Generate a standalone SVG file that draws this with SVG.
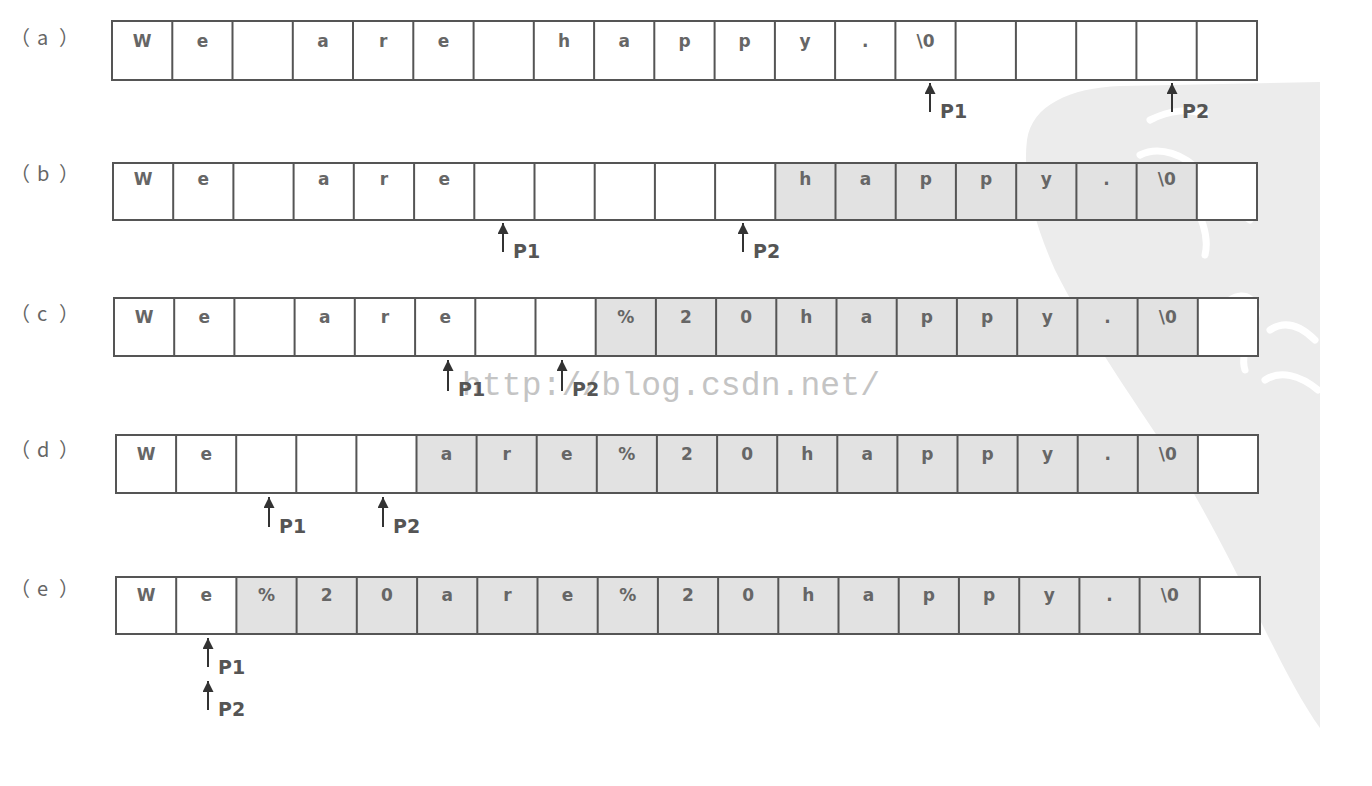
<svg xmlns="http://www.w3.org/2000/svg" width="1372" height="786" viewBox="0 0 1372 786">
<style>
.lbl{font-family:"Noto Sans CJK SC","DejaVu Sans",sans-serif;font-size:20px;fill:#666}
.box{fill:#fff;stroke:#555;stroke-width:2}
.shade{fill:#e2e2e2}
.grid{fill:none;stroke:#555;stroke-width:2}
.ch{font-family:"DejaVu Sans",sans-serif;font-size:17px;font-weight:bold;fill:#666;text-anchor:middle}
.ptr{stroke:#333;stroke-width:2;fill:none}
.pl{font-family:"DejaVu Sans",sans-serif;font-size:19px;font-weight:bold;fill:#555}
.wm{font-family:"Liberation Mono",monospace;font-size:33px;fill:#c4c4c4}
</style>
<defs>
<marker id="ah" markerUnits="userSpaceOnUse" markerWidth="11" markerHeight="11" viewBox="0 0 10 10" refX="10" refY="5" orient="auto">
<path d="M0,0 L10,5 L0,10 z" fill="#333"/>
</marker>
</defs>
<rect width="1372" height="786" fill="#fff"/>
<g id="stamp">
<path d="M1027,140 C1032,105 1070,88 1120,86 L1320,82 L1320,728 C1300,700 1280,660 1260,620 C1230,560 1200,500 1170,455 C1130,395 1085,330 1055,270 C1035,225 1022,180 1027,140 Z" fill="#ececec"/>
<g fill="none" stroke="#fff" stroke-width="7" stroke-linecap="round">
<path d="M1150,120 C1170,110 1190,108 1205,115"/>
<path d="M1140,155 C1160,145 1185,155 1200,172 C1215,190 1235,210 1250,220"/>
<path d="M1190,195 C1200,215 1210,235 1205,255"/>
<path d="M1230,300 C1245,290 1260,300 1255,320 C1250,340 1240,355 1245,370"/>
<path d="M1270,330 C1285,320 1300,325 1315,340"/>
<path d="M1265,380 C1280,370 1300,375 1318,390"/>
</g>
</g>
<g id="row-a">
<text class="lbl" x="10 37 59" y="45">（a）</text>
<rect class="box" x="112" y="21" width="1145" height="59"/>
<path class="grid" d="M172.3 21V80M232.5 21V80M292.8 21V80M353 21V80M413.3 21V80M473.6 21V80M533.8 21V80M594.1 21V80M654.3 21V80M714.6 21V80M774.9 21V80M835.1 21V80M895.4 21V80M955.6 21V80M1015.9 21V80M1076.2 21V80M1136.4 21V80M1196.7 21V80"/>
<text class="ch" x="142.1" y="47">W</text>
<text class="ch" x="202.4" y="47">e</text>
<text class="ch" x="322.9" y="47">a</text>
<text class="ch" x="383.2" y="47">r</text>
<text class="ch" x="443.4" y="47">e</text>
<text class="ch" x="564" y="47">h</text>
<text class="ch" x="624.2" y="47">a</text>
<text class="ch" x="684.5" y="47">p</text>
<text class="ch" x="744.7" y="47">p</text>
<text class="ch" x="805" y="47">y</text>
<text class="ch" x="865.3" y="47">.</text>
<text class="ch" x="925.5" y="47">\0</text>
</g>
<g id="row-b">
<text class="lbl" x="10 37 59" y="181">（b）</text>
<rect class="box" x="113" y="163" width="1144" height="57"/>
<rect class="shade" x="775.3" y="164" width="421.5" height="55"/>
<path class="grid" d="M113 163H1257V220H113ZM173.2 163V220M233.4 163V220M293.6 163V220M353.8 163V220M414.1 163V220M474.3 163V220M534.5 163V220M594.7 163V220M654.9 163V220M715.1 163V220M775.3 163V220M835.5 163V220M895.7 163V220M955.9 163V220M1016.2 163V220M1076.4 163V220M1136.6 163V220M1196.8 163V220"/>
<text class="ch" x="143.1" y="185">W</text>
<text class="ch" x="203.3" y="185">e</text>
<text class="ch" x="323.7" y="185">a</text>
<text class="ch" x="383.9" y="185">r</text>
<text class="ch" x="444.2" y="185">e</text>
<text class="ch" x="805.4" y="185">h</text>
<text class="ch" x="865.6" y="185">a</text>
<text class="ch" x="925.8" y="185">p</text>
<text class="ch" x="986.1" y="185">p</text>
<text class="ch" x="1046.3" y="185">y</text>
<text class="ch" x="1106.5" y="185">.</text>
<text class="ch" x="1166.7" y="185">\0</text>
</g>
<g id="row-c">
<text class="lbl" x="10 37 59" y="321">（c）</text>
<rect class="box" x="114" y="298" width="1144" height="58"/>
<rect class="shade" x="595.7" y="299" width="602.1" height="56"/>
<path class="grid" d="M114 298H1258V356H114ZM174.2 298V356M234.4 298V356M294.6 298V356M354.8 298V356M415.1 298V356M475.3 298V356M535.5 298V356M595.7 298V356M655.9 298V356M716.1 298V356M776.3 298V356M836.5 298V356M896.7 298V356M956.9 298V356M1017.2 298V356M1077.4 298V356M1137.6 298V356M1197.8 298V356"/>
<text class="ch" x="144.1" y="323">W</text>
<text class="ch" x="204.3" y="323">e</text>
<text class="ch" x="324.7" y="323">a</text>
<text class="ch" x="384.9" y="323">r</text>
<text class="ch" x="445.2" y="323">e</text>
<text class="ch" x="625.8" y="323">%</text>
<text class="ch" x="686" y="323">2</text>
<text class="ch" x="746.2" y="323">0</text>
<text class="ch" x="806.4" y="323">h</text>
<text class="ch" x="866.6" y="323">a</text>
<text class="ch" x="926.8" y="323">p</text>
<text class="ch" x="987.1" y="323">p</text>
<text class="ch" x="1047.3" y="323">y</text>
<text class="ch" x="1107.5" y="323">.</text>
<text class="ch" x="1167.7" y="323">\0</text>
</g>
<g id="row-d">
<text class="lbl" x="10 37 59" y="457">（d）</text>
<rect class="box" x="116" y="435" width="1142" height="58"/>
<rect class="shade" x="416.5" y="436" width="781.4" height="56"/>
<path class="grid" d="M116 435H1258V493H116ZM176.1 435V493M236.2 435V493M296.3 435V493M356.4 435V493M416.5 435V493M476.6 435V493M536.7 435V493M596.8 435V493M656.9 435V493M717.1 435V493M777.2 435V493M837.3 435V493M897.4 435V493M957.5 435V493M1017.6 435V493M1077.7 435V493M1137.8 435V493M1197.9 435V493"/>
<text class="ch" x="146.1" y="460">W</text>
<text class="ch" x="206.2" y="460">e</text>
<text class="ch" x="446.6" y="460">a</text>
<text class="ch" x="506.7" y="460">r</text>
<text class="ch" x="566.7" y="460">e</text>
<text class="ch" x="626.8" y="460">%</text>
<text class="ch" x="687" y="460">2</text>
<text class="ch" x="747.1" y="460">0</text>
<text class="ch" x="807.2" y="460">h</text>
<text class="ch" x="867.3" y="460">a</text>
<text class="ch" x="927.4" y="460">p</text>
<text class="ch" x="987.5" y="460">p</text>
<text class="ch" x="1047.6" y="460">y</text>
<text class="ch" x="1107.7" y="460">.</text>
<text class="ch" x="1167.8" y="460">\0</text>
</g>
<g id="row-e">
<text class="lbl" x="10 37 59" y="596">（e）</text>
<rect class="box" x="116" y="577" width="1144" height="57"/>
<rect class="shade" x="236.4" y="578" width="963.4" height="55"/>
<path class="grid" d="M116 577H1260V634H116ZM176.2 577V634M236.4 577V634M296.6 577V634M356.8 577V634M417.1 577V634M477.3 577V634M537.5 577V634M597.7 577V634M657.9 577V634M718.1 577V634M778.3 577V634M838.5 577V634M898.7 577V634M958.9 577V634M1019.2 577V634M1079.4 577V634M1139.6 577V634M1199.8 577V634"/>
<text class="ch" x="146.1" y="601">W</text>
<text class="ch" x="206.3" y="601">e</text>
<text class="ch" x="266.5" y="601">%</text>
<text class="ch" x="326.7" y="601">2</text>
<text class="ch" x="386.9" y="601">0</text>
<text class="ch" x="447.2" y="601">a</text>
<text class="ch" x="507.4" y="601">r</text>
<text class="ch" x="567.6" y="601">e</text>
<text class="ch" x="627.8" y="601">%</text>
<text class="ch" x="688" y="601">2</text>
<text class="ch" x="748.2" y="601">0</text>
<text class="ch" x="808.4" y="601">h</text>
<text class="ch" x="868.6" y="601">a</text>
<text class="ch" x="928.8" y="601">p</text>
<text class="ch" x="989.1" y="601">p</text>
<text class="ch" x="1049.3" y="601">y</text>
<text class="ch" x="1109.5" y="601">.</text>
<text class="ch" x="1169.7" y="601">\0</text>
</g>
<text id="watermark" class="wm" x="462" y="395" textLength="418" lengthAdjust="spacing">http://blog.csdn.net/</text>
<g id="pointers">
<line class="ptr" x1="930" y1="112" x2="930" y2="83" marker-end="url(#ah)"/>
<text class="pl" x="940" y="118">P1</text>
<line class="ptr" x1="1172" y1="112" x2="1172" y2="83" marker-end="url(#ah)"/>
<text class="pl" x="1182" y="118">P2</text>
<line class="ptr" x1="503" y1="252" x2="503" y2="223" marker-end="url(#ah)"/>
<text class="pl" x="513" y="258">P1</text>
<line class="ptr" x1="743" y1="252" x2="743" y2="223" marker-end="url(#ah)"/>
<text class="pl" x="753" y="258">P2</text>
<line class="ptr" x1="448" y1="391" x2="448" y2="360" marker-end="url(#ah)"/>
<text class="pl" x="458" y="396">P1</text>
<line class="ptr" x1="562" y1="391" x2="562" y2="360" marker-end="url(#ah)"/>
<text class="pl" x="572" y="396">P2</text>
<line class="ptr" x1="269" y1="527" x2="269" y2="497" marker-end="url(#ah)"/>
<text class="pl" x="279" y="533">P1</text>
<line class="ptr" x1="383" y1="527" x2="383" y2="497" marker-end="url(#ah)"/>
<text class="pl" x="393" y="533">P2</text>
<line class="ptr" x1="208" y1="667" x2="208" y2="638" marker-end="url(#ah)"/>
<text class="pl" x="218" y="674">P1</text>
<line class="ptr" x1="208" y1="710" x2="208" y2="681" marker-end="url(#ah)"/>
<text class="pl" x="218" y="716">P2</text>
</g>
</svg>
